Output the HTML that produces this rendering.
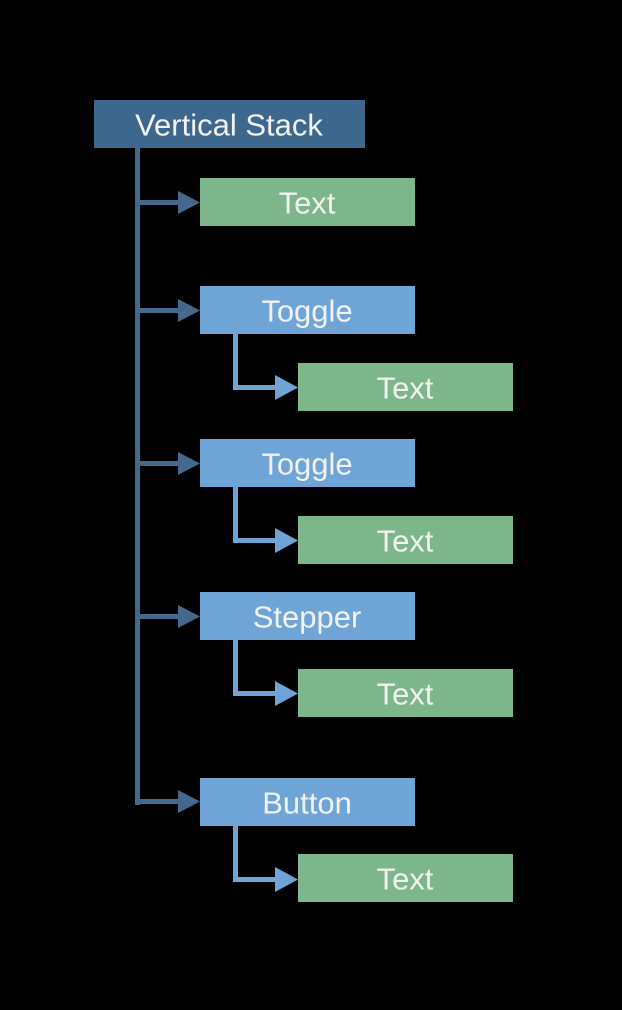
<!DOCTYPE html>
<html><head><meta charset="utf-8"><style>
html,body{margin:0;padding:0;background:#000;}
svg{display:block;}
text{font-family:"Liberation Sans",sans-serif;font-size:31px;fill:#f2f2f2;text-anchor:middle;dominant-baseline:central;}
</style></head><body>
<svg width="622" height="1010" viewBox="0 0 622 1010">
<rect width="622" height="1010" fill="#000"/>
<g fill="#43698c">
<rect x="135" y="148" width="5" height="657"/>
<rect x="135" y="200" width="46" height="5"/><polygon points="178,191 200,202.5 178,214"/>
<rect x="135" y="308" width="46" height="5"/><polygon points="178,299 200,310.5 178,322"/>
<rect x="135" y="461" width="46" height="5"/><polygon points="178,452 200,463.5 178,475"/>
<rect x="135" y="614" width="46" height="5"/><polygon points="178,605 200,616.5 178,628"/>
<rect x="135" y="799" width="46" height="5"/><polygon points="178,790 200,801.5 178,813"/>
</g>
<g fill="#6fa4d6">
<rect x="233" y="334" width="5" height="56"/><rect x="233" y="385" width="45" height="5"/><polygon points="275,375 298,387.5 275,400"/>
<rect x="233" y="487" width="5" height="56"/><rect x="233" y="538" width="45" height="5"/><polygon points="275,528 298,540.5 275,553"/>
<rect x="233" y="640" width="5" height="56"/><rect x="233" y="691" width="45" height="5"/><polygon points="275,681 298,693.5 275,706"/>
<rect x="233" y="826" width="5" height="56"/><rect x="233" y="877" width="45" height="5"/><polygon points="275,867 298,879.5 275,892"/>
</g>
<rect x="94" y="100" width="271" height="48" fill="#3d678c"/><text x="229" y="125">Vertical Stack</text>
<rect x="200" y="178" width="215" height="48" fill="#7db68a"/><text x="307" y="203">Text</text>
<rect x="200" y="286" width="215" height="48" fill="#6fa4d6"/><text x="307" y="311">Toggle</text>
<rect x="298" y="363" width="215" height="48" fill="#7db68a"/><text x="405" y="388">Text</text>
<rect x="200" y="439" width="215" height="48" fill="#6fa4d6"/><text x="307" y="464">Toggle</text>
<rect x="298" y="516" width="215" height="48" fill="#7db68a"/><text x="405" y="541">Text</text>
<rect x="200" y="592" width="215" height="48" fill="#6fa4d6"/><text x="307" y="617">Stepper</text>
<rect x="298" y="669" width="215" height="48" fill="#7db68a"/><text x="405" y="694">Text</text>
<rect x="200" y="778" width="215" height="48" fill="#6fa4d6"/><text x="307" y="803">Button</text>
<rect x="298" y="854" width="215" height="48" fill="#7db68a"/><text x="405" y="879">Text</text>
</svg>
</body></html>
